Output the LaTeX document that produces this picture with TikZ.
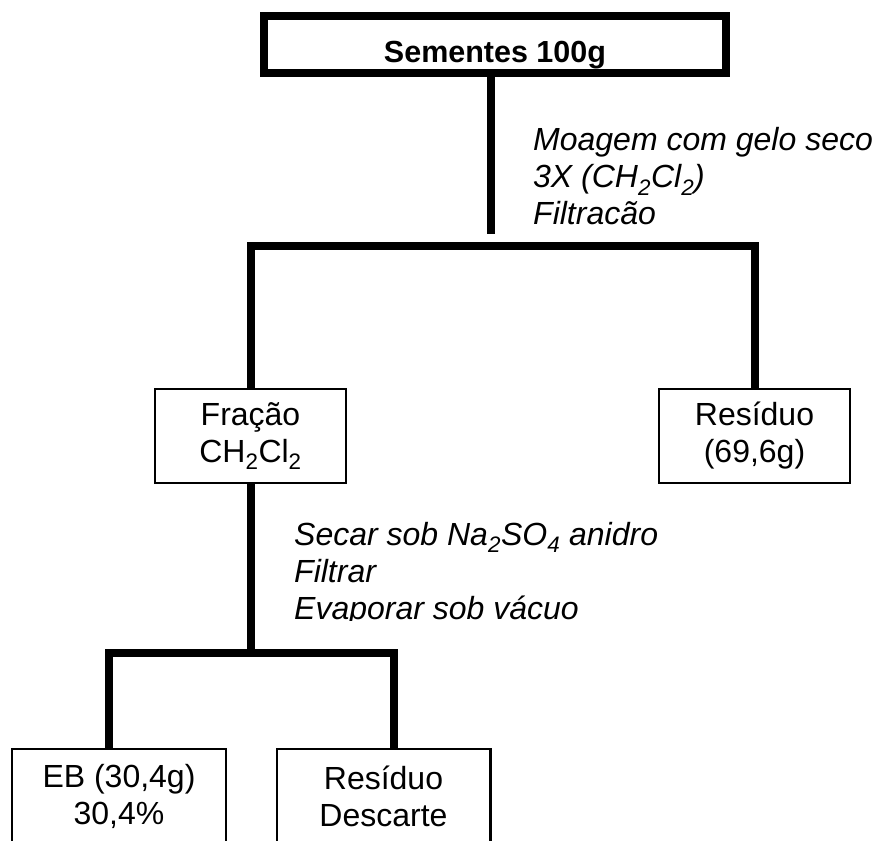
\documentclass[tikz,border=0pt]{standalone}
\usepackage{fontspec}
\setmainfont{Liberation Sans}
\tikzset{every picture/.style={/utils/exec={\fontsize{32}{37}\selectfont}}}
\tikzset{
  trunk/.style={line width=8pt},
  stagebox/.style={draw, line width=2.2pt, align=center, inner sep=0pt,
    minimum width=190.8pt, minimum height=93.8pt},
  endbox/.style={stagebox, minimum width=213.8pt},
  stepnote/.style={align=left, anchor=west, inner sep=0pt, font=\itshape}
}

\begin{document}
\begin{tikzpicture}[x=1pt, y=-1pt]
  \useasboundingbox (0,0) rectangle (876,841);

  \node [draw, line width=8pt, minimum width=462pt, minimum height=57pt, inner sep=0pt,
         text height=36pt, text depth=0pt, font=\fontsize{30.5}{36}\selectfont\bfseries]
         at (495,44.5) (seeds) {Sementes 100g};

  \node [stagebox] at (250.5,436) (fracao) {Fração\\CH\textsubscript{2}Cl\textsubscript{2}};
  \node [stagebox] at (754.5,436) (residuo) {Resíduo\\(69,6g)};
  \node [endbox] at (119,796) (eb) {EB (30,4g)\\30,4\%};
  \node [endbox] at (383.5,796) (descarte) {Resíduo\\Descarte};

  \node [stepnote] at (533,176.5) (moagem) {Moagem com gelo seco\\3X (CH\textsubscript{2}Cl\textsubscript{2})\\Filtracão};
  \node [stepnote] at (294,574) (secagem) {Secar sob Na\textsubscript{2}SO\textsubscript{4} anidro\\Filtrar\\Evaporar sob vácuo};
  \fill [white] (290,620.5) rectangle (680,634);

  \coordinate (split1) at (seeds.south |- 0,246);
  \coordinate (split2) at (fracao.south |- 0,653);

  \draw [trunk] ([xshift=-4pt]seeds.south) -- ([xshift=-4pt]seeds.south |- 0,234);
  \draw [trunk] (fracao.north) |- (split1) -| (residuo.north);
  \draw [trunk] (fracao.south) -- (split2);
  \draw [trunk] ([xshift=-10pt]eb.north) |- (split2) -| ([xshift=10.5pt]descarte.north);
\end{tikzpicture}
\end{document}
